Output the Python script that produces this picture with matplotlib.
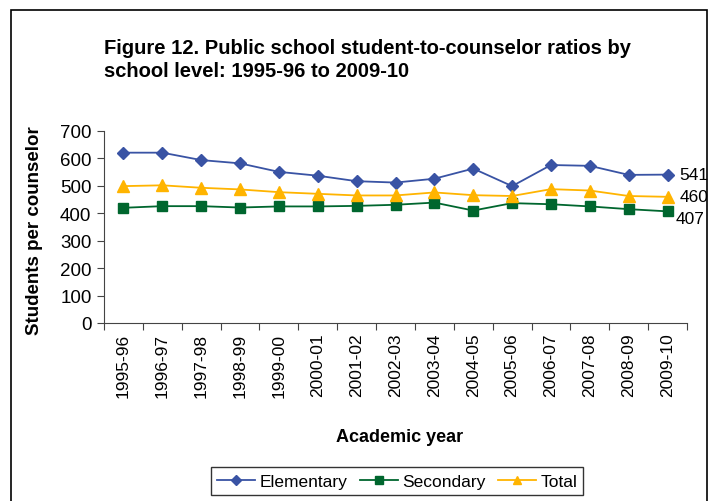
import matplotlib.pyplot as plt
import numpy as np

years = ["1995-96", "1996-97", "1997-98", "1998-99", "1999-00", "2000-01",
         "2001-02", "2002-03", "2003-04", "2004-05", "2005-06", "2006-07",
         "2007-08", "2008-09", "2009-10"]
elementary = [621, 621, 594, 582, 551, 537, 517, 512, 526, 563, 499, 576, 573, 540, 541]
secondary = [420, 426, 426, 421, 425, 425, 427, 431, 439, 410, 437, 433, 425, 415, 407]
total = [499, 502, 493, 487, 477, 471, 465, 465, 476, 466, 463, 488, 483, 463, 460]

plt.rcParams['font.family'] = ['Liberation Sans', 'DejaVu Sans']

fig = plt.figure(figsize=(7.13, 5.02), dpi=100)
ax = fig.add_axes([104/713, 1-324/502, (687-104)/713, (324-132)/502])

x = np.arange(len(years)) + 0.5
ax.plot(x, elementary, color='#3953A4', marker='D', markersize=6, lw=1.3, label='Elementary')
ax.plot(x, secondary, color='#00662E', marker='s', markersize=7, lw=1.3, label='Secondary')
ax.plot(x, total, color='#FFB400', marker='^', markersize=8, lw=1.3, label='Total')

# values at the end of each line
ax.text(x[-1] + 0.3, elementary[-1], str(elementary[-1]), fontsize=12.5, va='center')
ax.text(x[-1] + 0.3, total[-1], str(total[-1]), fontsize=12.5, va='center')
ax.text(x[-1] + 0.2, secondary[-1] - 26, str(secondary[-1]), fontsize=12.5, va='center')

ax.set_xlim(0, len(years))
ax.set_ylim(0, 700)
ax.set_yticks(range(0, 701, 100))
ax.set_xticks(np.arange(len(years) + 1))
ax.set_xticklabels([])
ax.set_xticks(x, minor=True)
ax.set_xticklabels(years, minor=True, rotation=90)
ax.tick_params(axis='x', which='minor', length=0, pad=7, labelsize=12.5)
ax.tick_params(axis='x', which='major', length=5, color='#444444')
ax.tick_params(axis='y', length=5, color='#444444', labelsize=13.5, pad=4)
ax.spines['top'].set_visible(False)
ax.spines['right'].set_visible(False)
ax.spines['left'].set_color('#444444')
ax.spines['bottom'].set_color('#444444')

fig.text(35/713, 1-231/502, 'Students per counselor', rotation=90, fontsize=13.5,
         fontweight='bold', ha='center', va='center')
fig.text(400/713, 1-438/502, 'Academic year', fontsize=13, fontweight='bold',
         ha='center', va='center')
fig.text(104/713, 1-77/502, 'Figure 12. Public school student-to-counselor ratios by\nschool level: 1995-96 to 2009-10',
         fontsize=14.5, fontweight='bold', ha='left', va='baseline', linespacing=1.25)

leg = fig.legend(loc='center', bbox_to_anchor=(397/713, 1-482/502), ncol=3,
                 fontsize=12.5, frameon=True, fancybox=False, edgecolor='black',
                 handlelength=2.2, columnspacing=0.7, handletextpad=0.25,
                 borderpad=0.35, borderaxespad=0, markerscale=0.8)
leg.get_frame().set_linewidth(1)

# outer border around the whole chart
fig.add_artist(plt.Rectangle((11/713, -0.05), (707-11)/713, 1.05 - 11/502,
                             transform=fig.transFigure, fill=False,
                             edgecolor='black', lw=1.2))

fig.savefig('out.png', dpi=100)
